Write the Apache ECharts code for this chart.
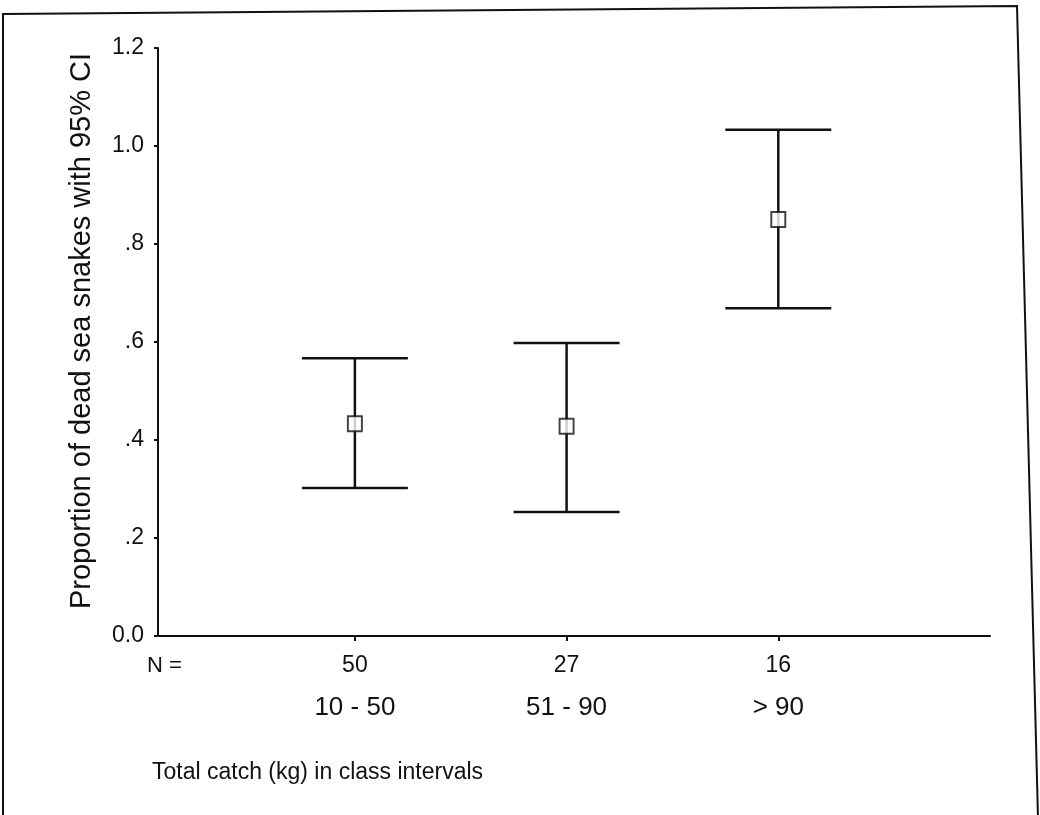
<!DOCTYPE html>
<html>
<head>
<meta charset="utf-8">
<script src="https://cdn.jsdelivr.net/npm/echarts@6/dist/echarts.min.js"></script>
<style>
html, body { margin: 0; padding: 0; background: #fff; }
#main { width: 1040px; height: 815px; }
</style>
</head>
<body>
<div id="main"></div>
<script>
// data
var groups = ['10 - 50', '51 - 90', '> 90'];
var counts = ['50', '27', '16'];
var means = [0.433, 0.428, 0.850];
var lower = [0.302, 0.253, 0.669];
var upper = [0.567, 0.598, 1.033];

var ink = '#111';
var font = '"Liberation Sans", Arial, sans-serif';

var barData = [];
var meanData = [];
for (var i = 0; i < groups.length; i++) {
    barData.push([i + 1, lower[i], upper[i]]);
    meanData.push([i + 1, means[i]]);
}

// whisker: vertical line plus two caps
function renderBar(params, api) {
    var lo = api.coord([api.value(0), api.value(1)]);
    var hi = api.coord([api.value(0), api.value(2)]);
    var half = 53;
    var st = { stroke: ink, lineWidth: 2.5 };
    return {
        type: 'group',
        children: [
            { type: 'line', shape: { x1: lo[0], y1: lo[1], x2: hi[0], y2: hi[1] }, style: st },
            { type: 'line', shape: { x1: hi[0] - half, y1: hi[1], x2: hi[0] + half, y2: hi[1] }, style: st },
            { type: 'line', shape: { x1: lo[0] - half, y1: lo[1], x2: lo[0] + half, y2: lo[1] }, style: st }
        ]
    };
}

var chart = echarts.init(document.getElementById('main'));
var option = {
    animation: false,
    backgroundColor: '#fff',
    grid: { left: 158, right: 50, top: 48, bottom: 179 },
    title: {
        text: 'Total catch (kg) in class intervals',
        left: 147, top: 756,
        textStyle: { fontFamily: font, fontSize: 23, fontWeight: 'normal', color: ink }
    },
    graphic: [
        {
            type: 'polygon',
            shape: { points: [[3, 14], [1017, 6], [1038, 818], [3, 818]] },
            style: { fill: 'none', stroke: ink, lineWidth: 2 },
            silent: true
        },
        {
            type: 'text', left: 147, top: 655,
            style: { text: 'N =', font: '22px ' + font, fill: ink }
        }
    ],
    xAxis: [{
        type: 'value',
        min: 0.07, max: 4.0,
        splitLine: { show: false },
        axisLine: { lineStyle: { color: ink, width: 2 } },
        axisTick: { customValues: [1, 2, 3], length: 5, lineStyle: { color: ink, width: 2 } },
        axisLabel: {
            customValues: [1, 2, 3],
            margin: 18,
            fontFamily: font, fontSize: 23, color: ink,
            formatter: function (v) { return counts[Math.round(v) - 1]; }
        }
    }, {
        type: 'value',
        position: 'bottom',
        offset: 51,
        min: 0.07, max: 4.0,
        splitLine: { show: false },
        axisLine: { show: false },
        axisTick: { show: false },
        axisLabel: {
            customValues: [1, 2, 3],
            fontFamily: font, fontSize: 26, color: ink,
            formatter: function (v) { return groups[Math.round(v) - 1]; }
        }
    }],
    yAxis: {
        type: 'value',
        min: 0, max: 1.2, interval: 0.2,
        name: 'Proportion of dead sea snakes with 95% CI',
        nameLocation: 'middle',
        nameGap: 62,
        nameTextStyle: { fontFamily: font, fontSize: 29, color: ink, padding: [0, 0, 0, 22] },
        splitLine: { show: false },
        axisLine: { show: true, lineStyle: { color: ink, width: 2 } },
        axisTick: { show: true, length: 4, lineStyle: { color: ink, width: 2 } },
        axisLabel: {
            margin: 14,
            fontFamily: font, fontSize: 23, color: ink,
            formatter: function (v) {
                var s = v.toFixed(1);
                if (v > 0 && v < 1) s = s.substring(1);
                return s;
            }
        }
    },
    series: [{
        type: 'custom',
        xAxisIndex: 0,
        renderItem: renderBar,
        data: barData,
        z: 2
    }, {
        type: 'scatter',
        xAxisIndex: 0,
        data: meanData,
        symbol: 'rect',
        symbolSize: [14, 15],
        itemStyle: { color: '#fff', borderColor: ink, borderWidth: 2 },
        z: 3
    }]
};
chart.setOption(option);
</script>
</body>
</html>
